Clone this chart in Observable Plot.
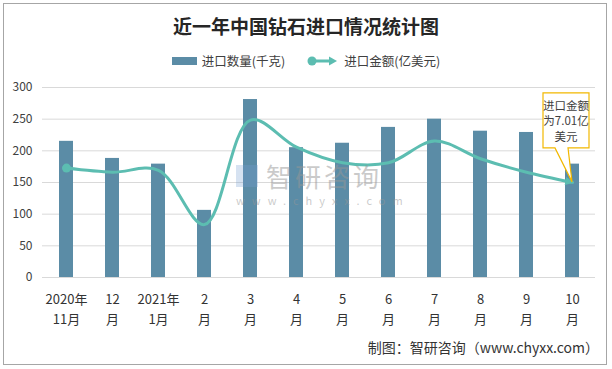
<!DOCTYPE html>
<html><head><meta charset="utf-8">
<script src="https://cdn.jsdelivr.net/npm/d3@7"></script>
<script src="https://cdn.jsdelivr.net/npm/@observablehq/plot@0.6"></script>
<style>
body{margin:0;background:#fff;font-family:"Noto Sans CJK SC","Noto Sans",sans-serif;}
#wrap{position:relative;width:612px;height:369px;overflow:hidden;background:#fff;}
#frame{position:absolute;left:3px;top:3px;width:602px;height:360px;border:1.5px solid #a6a6a6;}
#title{position:absolute;top:13px;left:0;width:612px;text-align:center;font-size:19px;line-height:26px;font-weight:bold;color:#262626;}
#legend{position:absolute;top:52px;left:0;width:612px;display:flex;justify-content:center;align-items:center;font-size:12.5px;line-height:18px;color:#404040;}
#legend .item{display:flex;align-items:center;}
#legend .sw{display:inline-block;width:25px;height:8px;background:#5b8ca6;margin-right:5px;}
#chart{position:absolute;left:0;top:75px;}
#wm{position:absolute;left:236px;top:160px;color:rgba(150,150,150,0.5);pointer-events:none;}
#wm .big{font-size:26px;line-height:32px;letter-spacing:3px;display:flex;align-items:center;}
#wm .logo{display:inline-block;width:22px;height:22px;margin-right:8px;background:rgba(120,160,210,0.3);}
#wm .small{font-size:11px;letter-spacing:7px;line-height:14px;margin-top:1px;}
#foot{position:absolute;right:13px;top:336px;font-size:14px;line-height:22px;color:#333;}
#overlay{position:absolute;left:0;top:0;pointer-events:none;}
</style>
</head><body>
<div id="wrap">
  <div id="frame"></div>
  <div id="title">近一年中国钻石进口情况统计图</div>
  <div id="legend">
    <span class="item"><span class="sw"></span>进口数量(千克)</span>
    <span class="item" style="margin-left:22px"><svg width="32" height="12" style="margin-right:5px"><line x1="5" y1="6" x2="24" y2="6" stroke="#5cbdb1" stroke-width="3"/><circle cx="5" cy="6" r="4.5" fill="#5cbdb1"/><path d="M22,1.5L30,6L22,10.5Z" fill="#5cbdb1"/></svg>进口金额(亿美元)</span>
  </div>
  <div id="chart"></div>
  <div id="wm"><div class="big"><span class="logo"></span>智研咨询</div><div class="small">www.chyxx.com</div></div>
  <div id="foot">制图：智研咨询（www.chyxx.com）</div>
</div>
<script>
// ---- data ----
const months = ["2020年\n11月","12\n月","2021年\n1月","2\n月","3\n月","4\n月","5\n月","6\n月","7\n月","8\n月","9\n月","10\n月"];
const quantity = [215,188,179,106,281,205,212,237,250,231,229,179]; // 进口数量(千克)
const amount = [8.06,7.76,7.9,3.9,11.6,9.6,8.46,8.45,10.05,8.75,7.76,7.01]; // 进口金额(亿美元)
const yTicks = [0,50,100,150,200,250,300];
const qtyAxisMax = 300;     // primary axis max
const amountAxisMax = 14;   // hidden secondary axis max
const calloutLines = ["进口金额","为7.01亿","美元"];

const rows = months.map((m,i)=>({month:m, qty:quantity[i], amt:amount[i], amtY: amount[i]*qtyAxisMax/amountAxisMax}));

const lineColor = "#5cbdb1", barColor = "#5b8ca6";

function arrowMarker(color){
  const m = d3.create("svg:marker")
    .attr("viewBox","-8 -5 10 10")
    .attr("markerWidth",3.4).attr("markerHeight",3.4)
    .attr("orient","auto").attr("fill",color).attr("stroke","none");
  m.append("path").attr("d","M-7,-4L1.5,0L-7,4Z");
  return m.node();
}

function build(marker){
  return Plot.plot({
    width:612, height:255,
    marginTop:12, marginBottom:53, marginLeft:42, marginRight:17,
    style:{fontFamily:'"Noto Sans CJK SC","Noto Sans",sans-serif', fontSize:"12px", color:"#404040", background:"transparent"},
    x:{type:"band", domain:months, paddingInner:0.696, paddingOuter:0.348, label:null},
    y:{domain:[0,qtyAxisMax], label:null},
    marks:[
      Plot.gridY({ticks:yTicks, stroke:"#d9d9d9", strokeOpacity:1}),
      Plot.axisY({ticks:yTicks, tickSize:0, tickPadding:10, label:null, fontSize:12, fill:"#404040"}),
      Plot.axisX({tickSize:0, tickPadding:12, fontSize:13, lineHeight:1.55, label:null, fill:"#333"}),
      Plot.barY(rows,{x:"month", y:"qty", fill:barColor}),
      Plot.line(rows,{x:"month", y:"amtY", curve:"catmull-rom", stroke:lineColor, strokeWidth:3, markerEnd:marker}),
      Plot.dot(rows.slice(0,1),{x:"month", y:"amtY", r:4.5, fill:lineColor})
    ]
  });
}
let chart;
try { chart = build(arrowMarker); } catch(e) { chart = build("arrow"); }
document.getElementById("chart").appendChild(chart);

// ---- callout anchored to last point via the chart's scales ----
const sx = chart.scale("x"), sy = chart.scale("y");
const last = rows[rows.length-1];
const px = sx.apply(last.month) + sx.bandwidth/2;
const py = 75 + sy.apply(last.amtY);
const bw = 46, bh = 55;
const bx = px - 29, by = py - 89;
const ov = d3.select("#wrap").append("svg").attr("id","overlay").attr("width",612).attr("height",369);
ov.append("path")
  .attr("d",`M${bx},${by}H${bx+bw}V${by+bh}H${bx+25}L${px},${py}L${bx+12},${by+bh}H${bx}Z`)
  .attr("fill","#fff").attr("stroke","#f2b800").attr("stroke-width",1.2);
ov.append("g").selectAll("text").data(calloutLines).join("text")
  .attr("x",bx+bw/2).attr("y",(d,i)=>by+17+i*15.5)
  .attr("text-anchor","middle").attr("font-size",11.5).attr("fill","#404040")
  .attr("font-family",'"Noto Sans CJK SC","Noto Sans",sans-serif')
  .text(d=>d);
</script>
</body></html>
